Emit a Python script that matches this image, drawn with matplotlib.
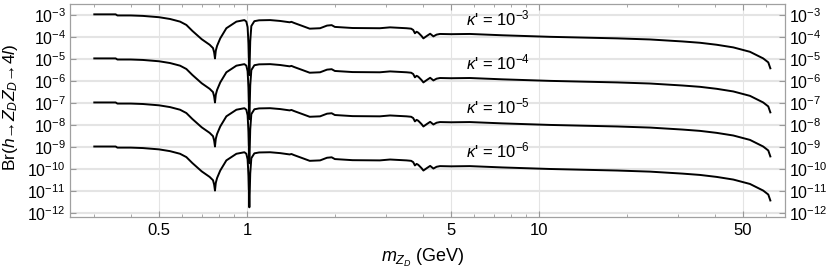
import numpy as np
import matplotlib
matplotlib.use('Agg')
import matplotlib.pyplot as plt
from matplotlib.ticker import FixedLocator, FixedFormatter, NullFormatter, LogFormatterSciNotation

plt.rcParams['font.family'] = ['Liberation Sans', 'DejaVu Sans']
plt.rcParams['mathtext.fontset'] = 'custom'
plt.rcParams['mathtext.rm'] = 'Liberation Sans'
plt.rcParams['mathtext.it'] = 'Liberation Sans:italic'
plt.rcParams['mathtext.bf'] = 'Liberation Sans:bold'

# Dark photon mass (GeV) and log10 Br for kappa' = 1e-3
mass = [0.30, 0.33, 0.355, 0.36, 0.40, 0.44, 0.50, 0.545, 0.59, 0.62, 0.65, 0.70,
        0.745, 0.765, 0.772, 0.777, 0.782, 0.79, 0.81, 0.85, 0.92, 0.98, 0.995,
        1.005, 1.012, 1.019, 1.026, 1.035, 1.06, 1.10, 1.20, 1.30, 1.40, 1.42,
        1.45, 1.55, 1.64, 1.78, 1.88, 1.95, 2.00, 2.30, 2.85, 3.09, 3.52, 3.65,
        3.71, 3.76, 3.81, 3.86, 3.96, 4.02, 4.13, 4.24, 4.35, 4.46, 4.58, 5.0,
        5.8, 7.5, 10.9, 18.5, 24.0, 31.0, 35.6, 40.6, 46.3, 52.8, 58.6, 61.0, 62.0]
log_br_ref = [-2.97, -2.97, -2.97, -3.02, -3.02, -3.04, -3.10, -3.18, -3.30, -3.45,
              -3.72, -4.10, -4.35, -4.50, -4.70, -4.97, -4.62, -4.40, -4.06, -3.60,
              -3.30, -3.23, -3.30, -3.55, -4.30, -5.73, -4.20, -3.50, -3.28, -3.24,
              -3.23, -3.27, -3.33, -3.31, -3.36, -3.50, -3.62, -3.60, -3.48, -3.46,
              -3.54, -3.59, -3.60, -3.56, -3.60, -3.62, -3.68, -3.83, -3.76, -3.80,
              -3.95, -4.06, -3.95, -3.85, -3.97, -3.89, -3.86, -3.87, -3.86, -3.92,
              -3.99, -4.06, -4.11, -4.20, -4.26, -4.35, -4.47, -4.67, -4.97, -5.15, -5.42]
kappas = [1e-3, 1e-4, 1e-5, 1e-6]
kappa_exps = ['-3', '-4', '-5', '-6']
x_ticks = [0.5, 1, 5, 10, 50]
x_tick_labels = ['0.5', '1', '5', '10', '50']
x_minor = [0.3, 0.4, 0.6, 0.7, 0.8, 0.9, 2, 3, 4, 6, 7, 8, 9, 20, 30, 40, 60]
y_exps = [-3, -4, -5, -6, -7, -8, -9, -10, -11, -12]

fig = plt.figure(figsize=(8.3, 2.7), dpi=100)
ax = fig.add_axes([70/830, 53/270, 715/830, 213/270])

grid_c = '#e4e4e4'
for e in y_exps:
    ax.axhline(10.0**e, color=grid_c, lw=1.5, zorder=0)
for xv in x_ticks:
    ax.axvline(xv, color=grid_c, lw=0.8, zorder=0)

base = np.array(log_br_ref)
for k, ex in zip(kappas, kappa_exps):
    shift = 2 * np.log10(k / kappas[0])
    ax.plot(mass, 10.0**(base + shift), color='black', lw=1.4, zorder=3)
    ax.text(5.62, 10.0**(-3.45 + shift), r"$\kappa$' = $10^{%s}$" % ex,
            fontsize=12, ha='left', va='baseline', zorder=4)

ax.set_xscale('log')
ax.set_yscale('log')
ax.set_xlim(0.2477, 69.6)
ax.set_ylim(10**-12.17, 10**-2.5)

ax.xaxis.set_major_locator(FixedLocator(x_ticks))
ax.xaxis.set_major_formatter(FixedFormatter(x_tick_labels))
ax.xaxis.set_minor_locator(FixedLocator(x_minor))
ax.xaxis.set_minor_formatter(NullFormatter())
ax.yaxis.set_major_locator(FixedLocator([10.0**e for e in y_exps]))
ax.yaxis.set_major_formatter(LogFormatterSciNotation())
ax.yaxis.set_minor_locator(FixedLocator([]))

ax.tick_params(which='both', direction='in', top=True, right=True,
               labelright=True, colors='#999999', labelcolor='black')
ax.tick_params(axis='y', labelsize=11.5, pad=3)
ax.tick_params(axis='x', labelsize=12, pad=4)
ax.tick_params(which='major', length=4, width=0.8)
ax.tick_params(which='minor', length=2.5, width=0.6)

for s in ax.spines.values():
    s.set_color('#a0a0a0')
    s.set_linewidth(0.9)

fig.text(423/830, 1 - 258/270, r'$m_{Z_D}$ (GeV)', fontsize=13, ha='center', va='center')
fig.text(11/830, 1 - 107/270, r'Br($h$→$Z_DZ_D$→4$l$)', fontsize=12.5,
         rotation=90, ha='center', va='center')

fig.savefig('out.png', dpi=100)
